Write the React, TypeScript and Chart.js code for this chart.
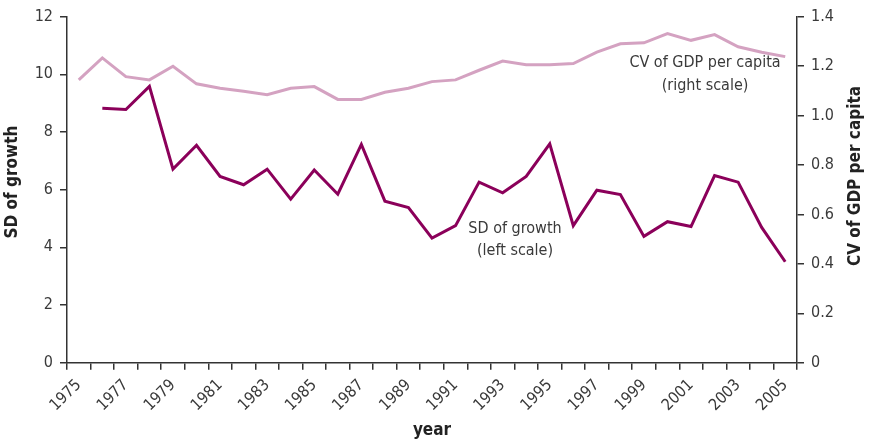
import React, { useEffect, useRef } from 'react';
import { Chart, registerables } from 'chart.js';

Chart.register(...registerables);

const years: string[] = [
  '1975', '1976', '1977', '1978', '1979', '1980', '1981', '1982', '1983', '1984',
  '1985', '1986', '1987', '1988', '1989', '1990', '1991', '1992', '1993', '1994',
  '1995', '1996', '1997', '1998', '1999', '2000', '2001', '2002', '2003', '2004', '2005',
];

// SD of growth (left scale)
const sdGrowth: (number | null)[] = [
  null, 8.82, 8.78, 9.58, 6.71, 7.54, 6.46, 6.17, 6.71, 5.67,
  6.68, 5.84, 7.57, 5.60, 5.38, 4.32, 4.75, 6.26, 5.89, 6.46,
  7.59, 4.75, 5.98, 5.83, 4.38, 4.89, 4.72, 6.49, 6.26, 4.69, 3.50,
];

// CV of GDP per capita (right scale)
const cvGdp: number[] = [
  1.144, 1.233, 1.157, 1.144, 1.199, 1.128, 1.110, 1.098, 1.084, 1.110,
  1.117, 1.065, 1.065, 1.094, 1.110, 1.137, 1.144, 1.183, 1.220, 1.205,
  1.205, 1.210, 1.256, 1.290, 1.294, 1.331, 1.304, 1.327, 1.278, 1.256, 1.238,
];

const leftTitle = 'SD of growth';
const rightTitle = 'CV of GDP per capita';
const xTitle = 'year';
const sdNote = ['SD of growth', '(left scale)'];
const cvNote = ['CV of GDP per capita', '(right scale)'];

const DARK = '#8b005a';
const PINK = '#d4a2c1';
const AXIS = '#333333';
const TEXT = '#3a3a3a';
const NARROW = '"Liberation Sans Narrow", "DejaVu Sans Condensed", "Roboto", sans-serif';

const textPlugin = {
  id: 'textPlugin',
  afterDraw(chart: any) {
    const ctx = chart.ctx as CanvasRenderingContext2D;
    const a = chart.chartArea;
    ctx.save();
    ctx.fillStyle = '#222222';
    ctx.font = `bold 17px ${NARROW}`;
    ctx.textAlign = 'center';
    ctx.textBaseline = 'middle';
    ctx.save();
    ctx.translate(13, 182);
    ctx.rotate(-Math.PI / 2);
    ctx.fillText(leftTitle, 0, 0);
    ctx.restore();
    ctx.save();
    ctx.translate(856, 176);
    ctx.rotate(-Math.PI / 2);
    ctx.fillText(rightTitle, 0, 0);
    ctx.restore();
    ctx.fillText(xTitle, (a.left + a.right) / 2, 431);

    ctx.fillStyle = TEXT;
    ctx.font = `16px ${NARROW}`;
    ctx.fillText(cvNote[0], 705, 63);
    ctx.fillText(cvNote[1], 705, 86);
    ctx.fillText(sdNote[0], 515, 229);
    ctx.fillText(sdNote[1], 515, 251);
    ctx.restore();
  },
};

export default function App() {
  const ref = useRef<HTMLCanvasElement | null>(null);

  useEffect(() => {
    if (!ref.current) return;
    const chart = new Chart(ref.current, {
      type: 'line',
      data: {
        labels: years,
        datasets: [
          {
            label: 'CV of GDP per capita',
            data: cvGdp,
            yAxisID: 'yRight',
            borderColor: PINK,
            borderWidth: 3,
            pointRadius: 0,
            tension: 0,
            fill: false,
          },
          {
            label: 'SD of growth',
            data: sdGrowth,
            yAxisID: 'yLeft',
            borderColor: DARK,
            borderWidth: 3,
            pointRadius: 0,
            tension: 0,
            fill: false,
          },
        ],
      },
      options: {
        animation: false,
        responsive: true,
        maintainAspectRatio: false,
        layout: { padding: { top: 11, left: 0, right: 0, bottom: 0 } },
        plugins: {
          legend: { display: false },
          tooltip: { enabled: false },
        },
        scales: {
          x: {
            type: 'category',
            offset: true,
            grid: {
              offset: true,
              drawOnChartArea: false,
              drawTicks: true,
              tickLength: 7,
              color: AXIS,
              lineWidth: 1.5,
            },
            border: { color: AXIS, width: 1.5 },
            ticks: {
              autoSkip: false,
              maxRotation: 45,
              minRotation: 45,
              padding: 6,
              color: TEXT,
              font: { family: NARROW, size: 16 },
              callback: (_v: any, i: number) => (i % 2 === 0 ? years[i] : ''),
            },
            afterFit: (s: any) => { s.height = 83.3; },
          },
          yLeft: {
            type: 'linear',
            position: 'left',
            min: 0,
            max: 12,
            grid: {
              drawOnChartArea: false,
              drawTicks: true,
              tickLength: 7,
              color: AXIS,
              lineWidth: 1.5,
            },
            border: { color: AXIS, width: 1.5 },
            ticks: {
              stepSize: 2,
              padding: 7,
              color: TEXT,
              font: { family: NARROW, size: 16 },
            },
            afterFit: (s: any) => { s.width = 67; },
          },
          yRight: {
            type: 'linear',
            position: 'right',
            min: 0,
            max: 1.4,
            grid: {
              drawOnChartArea: false,
              drawTicks: true,
              tickLength: 7,
              color: AXIS,
              lineWidth: 1.5,
            },
            border: { color: AXIS, width: 1.5 },
            ticks: {
              stepSize: 0.2,
              padding: 7,
              color: TEXT,
              font: { family: NARROW, size: 16 },
              callback: (v: any) => (Math.abs(v) < 1e-9 ? '0' : Number(v).toFixed(1)),
            },
            afterFit: (s: any) => { s.width = 78; },
          },
        },
      },
      plugins: [textPlugin],
    });
    return () => chart.destroy();
  }, []);

  return (
    <div style={{ position: 'fixed', left: 0, top: 0, width: 875, height: 446, background: '#fff' }}>
      <canvas ref={ref} />
    </div>
  );
}
